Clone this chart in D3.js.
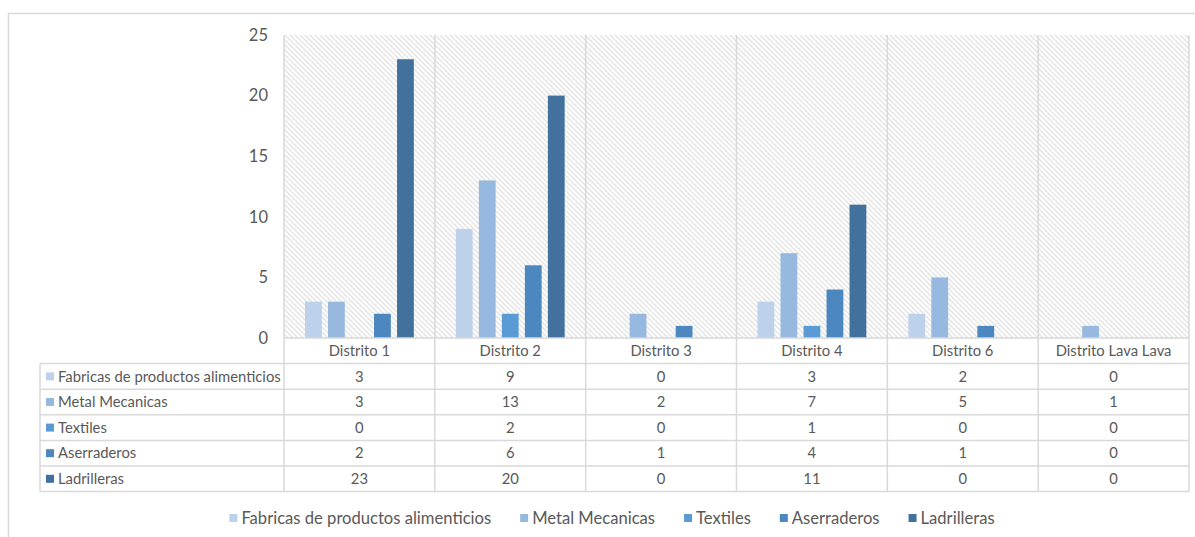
<!DOCTYPE html>
<html>
<head>
<meta charset="utf-8">
<script src="https://cdn.jsdelivr.net/npm/d3@7"></script>
<style>
  html, body { margin: 0; padding: 0; background: #fff; }
  svg { display: block; }
  text { font-family: Lato, "Liberation Sans", sans-serif; fill: #595959; }
</style>
</head>
<body>
<svg id="chart" width="1195" height="537"></svg>
<script>
const categories = ["Distrito 1", "Distrito 2", "Distrito 3", "Distrito 4", "Distrito 6", "Distrito Lava Lava"];
const seriesNames = ["Fabricas de productos alimenticios", "Metal Mecanicas", "Textiles", "Aserraderos", "Ladrilleras"];
const fabricas = [3, 9, 0, 3, 2, 0];
const metal = [3, 13, 2, 7, 5, 1];
const textiles = [0, 2, 0, 1, 0, 0];
const aserraderos = [2, 6, 1, 4, 1, 0];
const ladrilleras = [23, 20, 0, 11, 0, 0];
const yTicks = [0, 5, 10, 15, 20, 25];
const colors = ["#bdd1eb", "#97b9df", "#5b9bd5", "#4d87c0", "#41719c"];

const seriesValues = [fabricas, metal, textiles, aserraderos, ladrilleras];

const svg = d3.select("#chart");

// outer chart border
svg.append("rect").attr("x", 8.5).attr("y", 13.5).attr("width", 1200).attr("height", 540)
  .attr("fill", "none").attr("stroke", "#d9d9d9").attr("stroke-width", 1.5);

const plot = { left: 284, right: 1189, top: 35, bottom: 338 };
const rowH = 25.6;
const tableLeft = 40;

const x = d3.scaleBand().domain(categories).range([plot.left, plot.right]).padding(0);
const y = d3.scaleLinear().domain([0, 25]).range([plot.bottom, plot.top]);
const inner = d3.scaleBand().domain(seriesNames)
  .range([21, x.bandwidth() - 21]).paddingInner(0.27).paddingOuter(0);

// hatch pattern
const defs = svg.append("defs");
const pat = defs.append("pattern").attr("id", "hatch").attr("patternUnits", "userSpaceOnUse")
  .attr("width", 5).attr("height", 5);
pat.append("rect").attr("width", 5).attr("height", 5).attr("fill", "#fff");
pat.append("path").attr("d", "M-1,-1 L6,6 M-1,4 L1,6 M4,-1 L6,1")
  .attr("stroke", "#e2e2e2").attr("stroke-width", 1.3);

svg.append("rect").attr("x", plot.left).attr("y", plot.top)
  .attr("width", plot.right - plot.left).attr("height", plot.bottom - plot.top)
  .attr("fill", "url(#hatch)");

// bars
seriesNames.forEach((s, si) => {
  svg.append("g").selectAll("rect").data(categories).join("rect")
    .attr("x", c => x(c) + inner(s))
    .attr("y", (c, i) => y(seriesValues[si][i]))
    .attr("width", inner.bandwidth())
    .attr("height", (c, i) => y(0) - y(seriesValues[si][i]))
    .attr("fill", colors[si]);
});

// y axis labels
const yAxis = d3.axisLeft(y).tickValues(yTicks).tickSize(0).tickPadding(16);
const yg = svg.append("g").attr("transform", `translate(${plot.left},0)`).call(yAxis);
yg.select(".domain").remove();
yg.selectAll("text").attr("font-size", 16.5).attr("fill", "#595959")
  .style("font-family", "Lato, 'Liberation Sans', sans-serif");

// grid / table lines
const lineColor = "#d9d9d9";
const tableBottom = plot.bottom + rowH * 6;
const boundaries = categories.map(c => x(c)).concat([plot.right]);
const lines = svg.append("g").attr("stroke", lineColor).attr("stroke-width", 1.5);
boundaries.forEach(bx => {
  lines.append("line").attr("x1", bx).attr("x2", bx).attr("y1", plot.top).attr("y2", tableBottom);
});
lines.append("line").attr("x1", tableLeft).attr("x2", tableLeft)
  .attr("y1", plot.bottom + rowH).attr("y2", tableBottom);
lines.append("line").attr("x1", plot.left).attr("x2", plot.right)
  .attr("y1", plot.bottom).attr("y2", plot.bottom);
for (let r = 1; r <= 6; r++) {
  const ly = plot.bottom + rowH * r;
  lines.append("line").attr("x1", tableLeft).attr("x2", plot.right).attr("y1", ly).attr("y2", ly);
}

// header categories
svg.append("g").selectAll("text").data(categories).join("text")
  .attr("x", c => x(c) + x.bandwidth() / 2)
  .attr("y", plot.bottom + rowH / 2)
  .attr("dy", "0.35em").attr("text-anchor", "middle").attr("font-size", 14.8)
  .text(c => c);

// table rows
seriesNames.forEach((s, si) => {
  const cy = plot.bottom + rowH * (si + 1) + rowH / 2;
  svg.append("rect").attr("x", 46).attr("y", cy - 4).attr("width", 8).attr("height", 8).attr("fill", colors[si]);
  svg.append("text").attr("x", 58).attr("y", cy).attr("dy", "0.35em").attr("font-size", 14.8).text(s);
  svg.append("g").selectAll("text").data(categories).join("text")
    .attr("x", c => x(c) + x.bandwidth() / 2)
    .attr("y", cy).attr("dy", "0.35em").attr("text-anchor", "middle").attr("font-size", 14.8)
    .text((c, i) => seriesValues[si][i]);
});

// legend
const legend = svg.append("g");
let lx = 0;
seriesNames.forEach((s, si) => {
  const g = legend.append("g");
  g.append("rect").attr("x", 0).attr("y", -4).attr("width", 8).attr("height", 8).attr("fill", colors[si]);
  const t = g.append("text").attr("x", 12).attr("y", 0).attr("dy", "0.35em").attr("font-size", 16.6).text(s);
  const w = 12 + t.node().getComputedTextLength();
  g.attr("transform", `translate(${lx},0)`);
  lx += w + 29;
});
const totalW = lx - 29;
legend.attr("transform", `translate(${612 - totalW / 2},518)`);
</script>
</body>
</html>
